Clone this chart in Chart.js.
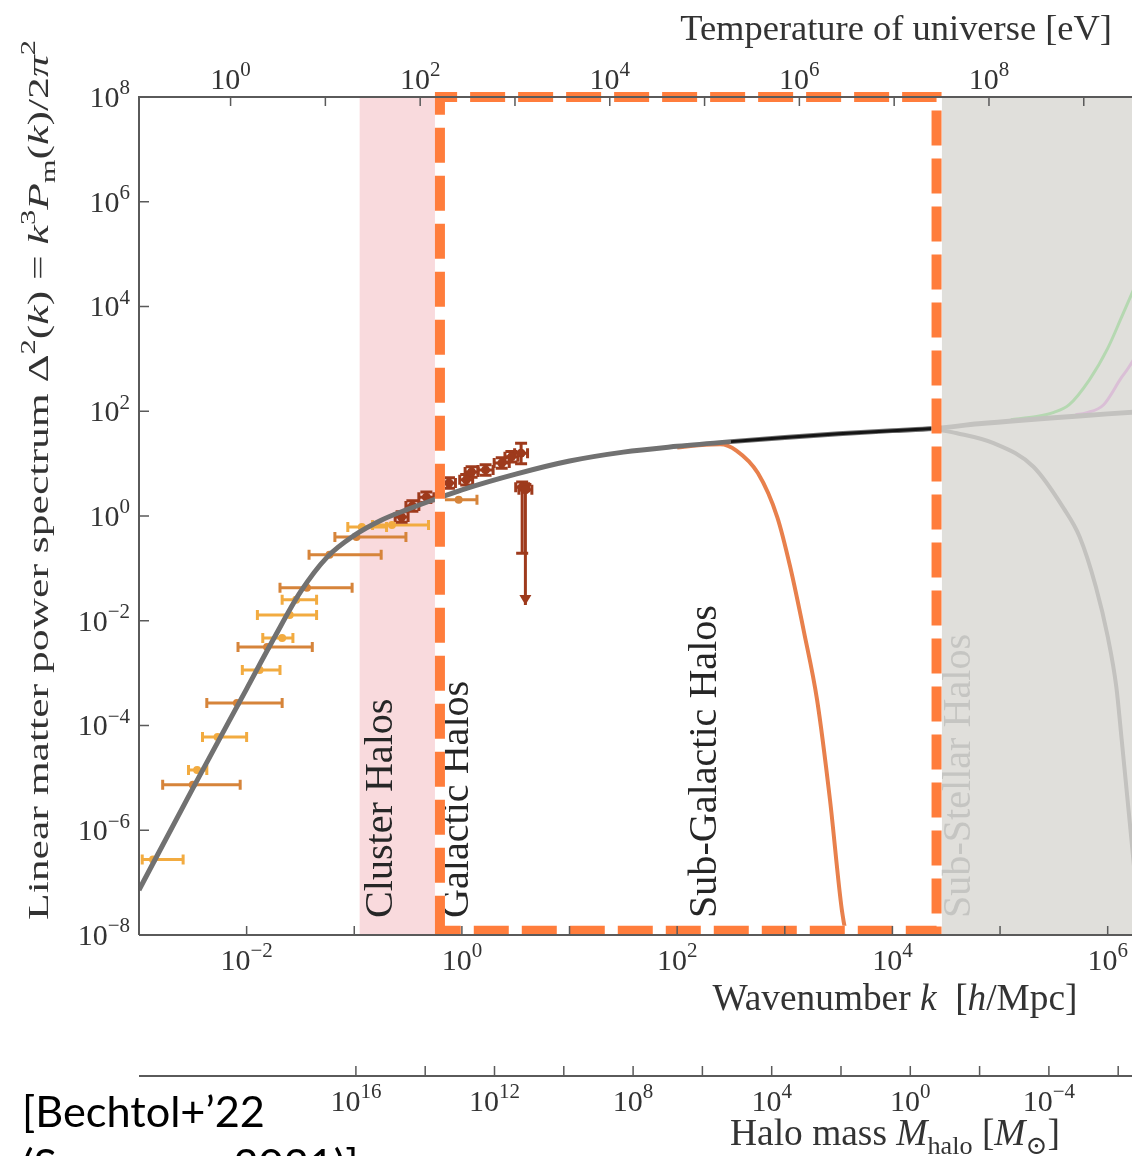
<!DOCTYPE html>
<html>
<head>
<meta charset="utf-8">
<script src="https://cdn.jsdelivr.net/npm/chart.js@4.4.1/dist/chart.umd.min.js"></script>
<style>
  html, body { margin: 0; padding: 0; background: #fff; overflow: hidden; }
  #wrap { position: relative; width: 1132px; height: 1156px; overflow: hidden; }
  canvas { display: block; }
</style>
</head>
<body>
<div id="wrap"><canvas id="powerChart" width="1166" height="1156"></canvas></div>
<script>
// axis ranges, as log10 exponents
const kRange = [-3, 6.5];
const deltaRange = [-8, 8];
const tempRange = [-0.966, 9.82];
const massRange = [-7.25, 22.26];

// tick exponents
const kTicks = [-2, -1, 0, 1, 2, 3, 4, 5, 6];
const kLabels = [-2, 0, 2, 4, 6];
const yTicks = [-8, -6, -4, -2, 0, 2, 4, 6, 8];
const tempTicks = [0, 1, 2, 3, 4, 5, 6, 7, 8, 9];
const tempLabels = [0, 2, 4, 6, 8];
const massTicks = [16, 14, 12, 10, 8, 6, 4, 2, 0, -2, -4, -6];
const massLabels = [16, 12, 8, 4, 0, -4];

// shaded bands and highlight box (log10 k, log10 Delta^2)
const clusterBand = [-0.95, -0.25];
const subStellarBand = [4.46, 6.5];
const boxK = [-0.204, 4.41];
const boxD = [-7.92, 8];

// halo regions
const regionNames = ["Cluster Halos", "Galactic Halos", "Sub-Galactic Halos", "Sub-Stellar Halos"];
const regionK = [-0.77, -0.065, 2.24, 4.6];

// CDM linear power spectrum
const cdmLogK = [-3.0, -2.5, -2.0, -1.75, -1.5, -1.25, -1.0, -0.75, -0.5, -0.25, 0, 0.5, 1.0, 1.5, 2.0, 2.5, 3.0, 3.5, 4.0, 4.38, 4.8, 5.2, 5.6, 6.0, 6.5];
const cdmLogD = [-7.14, -5.2, -3.3, -2.35, -1.45, -0.78, -0.37, -0.08, 0.13, 0.32, 0.50, 0.80, 1.05, 1.22, 1.33, 1.42, 1.50, 1.57, 1.63, 1.67, 1.76, 1.83, 1.89, 1.95, 2.02];
// cutoff models
const wdmLogK = [2.0, 2.2, 2.4, 2.55, 2.75, 2.93, 3.05, 3.18, 3.30, 3.42, 3.53, 3.6];
const wdmLogD = [1.31, 1.35, 1.37, 1.25, 0.82, -0.02, -0.97, -2.23, -3.51, -5.42, -7.52, -8.3];
const fallLogK = [4.38, 4.6, 4.94, 5.31, 5.59, 5.74, 5.89, 6.0, 6.08, 6.13, 6.25];
const fallLogD = [1.66, 1.58, 1.39, 0.94, 0.15, -0.4, -1.35, -2.3, -3.26, -4.27, -6.8];
const greenLogK = [5.1, 5.34, 5.5, 5.64, 5.83, 6.0, 6.13, 6.3, 6.5];
const greenLogD = [1.84, 1.9, 1.98, 2.12, 2.6, 3.2, 3.8, 4.6, 5.5];
const pinkLogK = [5.7, 5.8, 5.96, 6.13, 6.19, 6.5];
const pinkLogD = [1.93, 1.97, 2.12, 2.65, 2.82, 3.9];

// measurements: light orange
const lightK = [-2.87, -2.46, -2.27, -1.88, -1.67, -1.60, -1.54, -0.93, -0.65];
const lightKLo = [-2.97, -2.54, -2.41, -2.04, -1.85, -1.90, -1.67, -1.06, -0.83];
const lightKHi = [-2.59, -2.37, -2.00, -1.69, -1.57, -1.35, -1.35, -0.70, -0.31];
const lightD = [-6.56, -4.85, -4.22, -2.94, -2.33, -1.89, -1.60, -0.21, -0.17];
// measurements: dark orange
const orangeK = [-2.50, -2.09, -1.81, -1.44, -1.23, -0.98, -0.03];
const orangeKLo = [-2.78, -2.37, -2.08, -1.69, -1.42, -1.18, -0.19];
const orangeKHi = [-2.06, -1.67, -1.39, -1.02, -0.75, -0.52, 0.14];
const orangeD = [-5.13, -3.57, -2.50, -1.37, -0.74, -0.40, 0.31];
// measurements: brown (last one is an upper limit)
const brownK = [-0.56, -0.46, -0.33, -0.12, 0.04, 0.09, 0.22, 0.37, 0.46, 0.55, 0.56, 0.59];
const brownKLo = [-0.62, -0.52, -0.40, -0.18, -0.02, 0.03, 0.15, 0.30, 0.40, 0.49, 0.50, 0.53];
const brownKHi = [-0.50, -0.40, -0.26, -0.06, 0.10, 0.15, 0.29, 0.44, 0.52, 0.61, 0.62, 0.65];
const brownD = [-0.02, 0.19, 0.36, 0.63, 0.69, 0.84, 0.88, 1.01, 1.13, 1.20, 0.55, 0.50];
const brownDLo = [-0.12, 0.09, 0.26, 0.53, 0.59, 0.74, 0.78, 0.91, 1.03, 1.00, -0.71, -1.70];
const brownDHi = [0.08, 0.29, 0.46, 0.73, 0.79, 0.94, 0.98, 1.11, 1.23, 1.39, 0.65, 0.60];
const brownLimit = [false, false, false, false, false, false, false, false, false, false, false, true];

const pw = v => Math.pow(10, v);
const SERIF = '"Liberation Serif", "DejaVu Serif", serif';
const INK = "#333";

function curve(ks, ds) {
    return ks.map((k, i) => ({ x: pw(k), y: pw(ds[i]) }));
}
function measured(ks, lo, hi, ds, dlo, dhi, lim) {
    return ks.map((k, i) => ({
        x: pw(k), y: pw(ds[i]), xMin: pw(lo[i]), xMax: pw(hi[i]),
        yMin: dlo ? pw(dlo[i]) : null, yMax: dhi ? pw(dhi[i]) : null,
        limit: lim ? lim[i] : false
    }));
}

// rich text: segments of [text, style]
function segFont(st, size) {
    const small = st === "sup" || st === "sub";
    const it = st === "i";
    return (it ? "italic " : "") + (small ? size * 0.7 : size) + "px " + SERIF;
}
function richWidth(ctx, segs, size) {
    let w = 0;
    segs.forEach(([t, st]) => { ctx.font = segFont(st, size); w += ctx.measureText(t).width; });
    return w;
}
function drawRich(ctx, segs, x, y, size, align) {
    const w = richWidth(ctx, segs, size);
    let cx = align === "center" ? x - w / 2 : align === "right" ? x - w : x;
    ctx.textAlign = "left";
    ctx.textBaseline = "alphabetic";
    segs.forEach(([t, st]) => {
        ctx.font = segFont(st, size);
        const dy = st === "sup" ? -size * 0.42 : st === "sub" ? size * 0.22 : 0;
        ctx.fillText(t, cx, y + dy);
        cx += ctx.measureText(t).width;
    });
}
function fitSize(ctx, segs, target) {
    return 30 * target / richWidth(ctx, segs, 30);
}
function powSegs(e) {
    return [["10", "n"], [(e < 0 ? "\u2212" : "") + Math.abs(e), "sup"]];
}

const TICK_SIZE = 30;

const decor = {
    id: "decor",
    beforeDatasetsDraw(chart) {
        const { ctx, chartArea: a, scales: { x, y } } = chart;
        ctx.save();
        // cluster band
        let x0 = x.getPixelForValue(pw(clusterBand[0]));
        let x1 = x.getPixelForValue(pw(clusterBand[1]));
        ctx.fillStyle = "#f9dadd";
        ctx.fillRect(x0, a.top, x1 - x0, a.bottom - a.top);
        // sub-stellar band
        x0 = x.getPixelForValue(pw(subStellarBand[0]));
        x1 = x.getPixelForValue(pw(subStellarBand[1]));
        ctx.fillStyle = "rgb(224,223,219)";
        ctx.fillRect(x0, a.top, x1 - x0, a.bottom - a.top);

        // error bars
        ctx.lineWidth = 3;
        chart.data.datasets.forEach(ds => {
            if (!ds.errorBars) return;
            ctx.strokeStyle = ds.backgroundColor;
            ctx.fillStyle = ds.backgroundColor;
            ds.data.forEach(p => {
                const px = x.getPixelForValue(p.x), py = y.getPixelForValue(p.y);
                const l = x.getPixelForValue(p.xMin), r = x.getPixelForValue(p.xMax);
                ctx.beginPath();
                ctx.moveTo(l, py); ctx.lineTo(r, py);
                ctx.moveTo(l, py - 5); ctx.lineTo(l, py + 5);
                ctx.moveTo(r, py - 5); ctx.lineTo(r, py + 5);
                ctx.stroke();
                if (p.yMin !== null) {
                    const b = y.getPixelForValue(p.yMin), t = y.getPixelForValue(p.yMax);
                    ctx.beginPath();
                    ctx.moveTo(px, t); ctx.lineTo(px, b);
                    ctx.moveTo(px - 6, t); ctx.lineTo(px + 6, t);
                    if (!p.limit) { ctx.moveTo(px - 6, b); ctx.lineTo(px + 6, b); }
                    ctx.stroke();
                    if (p.limit) {
                        ctx.beginPath();
                        ctx.moveTo(px - 6, b - 10); ctx.lineTo(px + 6, b - 10); ctx.lineTo(px, b);
                        ctx.closePath();
                        ctx.fill();
                    }
                }
            });
        });
        ctx.restore();
    },
    afterDatasetsDraw(chart) {
        const { ctx, chartArea: a, scales: { x, y } } = chart;
        ctx.save();
        // fade what lies inside the sub-stellar band
        const x0 = x.getPixelForValue(pw(subStellarBand[0]));
        const x1 = x.getPixelForValue(pw(subStellarBand[1]));
        ctx.fillStyle = "rgba(224,223,219,0.74)";
        ctx.fillRect(x0, a.top, x1 - x0, a.bottom - a.top);

        // region names, vertical
        const rsize = fitSize(ctx, [[regionNames[2], "n"]], 313);
        regionNames.forEach((name, i) => {
            const px = x.getPixelForValue(pw(regionK[i]));
            ctx.save();
            ctx.translate(px, a.bottom - 17);
            ctx.rotate(-Math.PI / 2);
            ctx.fillStyle = i === 3 ? "#c5c5c2" : "#262626";
            drawRich(ctx, [[name, "n"]], 0, rsize * 0.33, rsize, "left");
            ctx.restore();
        });

        // dashed highlight box
        const bx0 = x.getPixelForValue(pw(boxK[0])), bx1 = x.getPixelForValue(pw(boxK[1]));
        const by0 = y.getPixelForValue(pw(boxD[1])), by1 = y.getPixelForValue(pw(boxD[0]));
        ctx.beginPath();
        ctx.moveTo(bx0, by1);
        ctx.lineTo(bx0, by0);
        ctx.lineTo(bx1, by0);
        ctx.lineTo(bx1, by1);
        ctx.closePath();
        ctx.lineWidth = 10;
        ctx.lineJoin = "miter";
        ctx.strokeStyle = "#fff";
        ctx.stroke();
        ctx.setLineDash([35, 13]);
        ctx.strokeStyle = "#ff7d3c";
        ctx.stroke();
        ctx.restore();
    },
    afterDraw(chart) {
        const { ctx, chartArea: a, scales: { x, y, xTop, mass } } = chart;
        ctx.save();
        ctx.strokeStyle = "#5a5a5a";
        ctx.lineWidth = 2;
        // frame
        ctx.beginPath();
        ctx.moveTo(a.left, a.bottom); ctx.lineTo(a.left, a.top); ctx.lineTo(a.right, a.top);
        ctx.moveTo(a.left, a.bottom); ctx.lineTo(a.right, a.bottom);
        ctx.moveTo(mass.left, mass.top); ctx.lineTo(mass.right, mass.top);
        ctx.stroke();
        // inward ticks
        ctx.lineWidth = 1.5;
        ctx.beginPath();
        yTicks.forEach(e => { const p = y.getPixelForValue(pw(e)); ctx.moveTo(a.left, p); ctx.lineTo(a.left + 10, p); });
        kTicks.forEach(e => { const p = x.getPixelForValue(pw(e)); ctx.moveTo(p, a.bottom); ctx.lineTo(p, a.bottom - 9); });
        tempTicks.forEach(e => { const p = xTop.getPixelForValue(pw(e)); ctx.moveTo(p, a.top); ctx.lineTo(p, a.top + 9); });
        massTicks.forEach(e => { const p = mass.getPixelForValue(pw(e)); ctx.moveTo(p, mass.top); ctx.lineTo(p, mass.top - 10); });
        ctx.stroke();

        // tick labels
        ctx.fillStyle = INK;
        const off = TICK_SIZE * 0.33;
        yTicks.forEach(e => drawRich(ctx, powSegs(e), a.left - 9, y.getPixelForValue(pw(e)) + off, TICK_SIZE, "right"));
        kLabels.forEach(e => drawRich(ctx, powSegs(e), x.getPixelForValue(pw(e)), a.bottom + 25 + off, TICK_SIZE, "center"));
        tempLabels.forEach(e => drawRich(ctx, powSegs(e), xTop.getPixelForValue(pw(e)), a.top - 18 + off, TICK_SIZE, "center"));
        massLabels.forEach(e => drawRich(ctx, powSegs(e), mass.getPixelForValue(pw(e)), mass.top + 25 + off, TICK_SIZE, "center"));

        // axis titles
        const topT = [["Temperature of universe [eV]", "n"]];
        let s = fitSize(ctx, topT, 432);
        drawRich(ctx, topT, 1112, 28 + s * 0.33, s, "right");

        const kT = [["Wavenumber ", "n"], ["k", "i"], ["  [", "n"], ["h", "i"], ["/Mpc]", "n"]];
        s = fitSize(ctx, kT, 365);
        drawRich(ctx, kT, 895, 998 + s * 0.33, s, "center");

        const mT = [["Halo mass ", "n"], ["M", "i"], ["halo", "sub"], [" [", "n"], ["M", "i"], ["\u2299", "sub"], ["]", "n"]];
        s = fitSize(ctx, mT, 330);
        drawRich(ctx, mT, 895, 1133 + s * 0.33, s, "center");

        // y title: wide serif look, stretched along the text
        const yT = [["Linear matter power spectrum ", "n"], ["\u0394", "n"], ["2", "sup"], ["(", "n"], ["k", "i"], [") = ", "n"],
            ["k", "i"], ["3", "sup"], ["P", "i"], ["m", "sub"], ["(", "n"], ["k", "i"], [")/2", "n"], ["\u03c0", "i"], ["2", "sup"]];
        s = 30;
        const stretch = 880 / richWidth(ctx, yT, s);
        ctx.save();
        ctx.translate(38, 480);
        ctx.rotate(-Math.PI / 2);
        ctx.scale(stretch, 1);
        drawRich(ctx, yT, 0, s * 0.33, s, "center");
        ctx.restore();

        // citation
        ctx.fillStyle = "#000";
        ctx.textAlign = "left";
        ctx.font = "40px Lato";
        const cs = 40 * 243 / ctx.measureText("[Bechtol+\u201922").width;
        ctx.font = cs + "px Lato";
        ctx.fillText("[Bechtol+\u201922", 22, 1127);
        ctx.fillText("(Snowmass2021)]", 22, 1127 + cs * 1.22);
        ctx.restore();
    }
};

const hidden = { grid: { display: false }, border: { display: false }, ticks: { display: false } };

new Chart(document.getElementById("powerChart"), {
    type: "scatter",
    data: {
        datasets: [
            { label: "light", data: measured(lightK, lightKLo, lightKHi, lightD), errorBars: true,
              backgroundColor: "#f2ab40", pointRadius: 4, borderWidth: 0, order: 4 },
            { label: "orange", data: measured(orangeK, orangeKLo, orangeKHi, orangeD), errorBars: true,
              backgroundColor: "#d6843a", pointRadius: 4, borderWidth: 0, order: 4 },
            { label: "brown", data: measured(brownK, brownKLo, brownKHi, brownD, brownDLo, brownDHi, brownLimit), errorBars: true,
              backgroundColor: "#9e3a1c", pointRadius: 4.5, borderWidth: 0, order: 4 },
            { label: "green", data: curve(greenLogK, greenLogD), showLine: true, borderColor: "#3cc43c", borderWidth: 3,
              pointRadius: 0, cubicInterpolationMode: "monotone", order: 3 },
            { label: "pink", data: curve(pinkLogK, pinkLogD), showLine: true, borderColor: "#c864c8", borderWidth: 3,
              pointRadius: 0, cubicInterpolationMode: "monotone", order: 3 },
            { label: "fall", data: curve(fallLogK, fallLogD), showLine: true, borderColor: "#6f6f6f", borderWidth: 4,
              pointRadius: 0, cubicInterpolationMode: "monotone", order: 3 },
            { label: "WDM", data: curve(wdmLogK, wdmLogD), showLine: true, borderColor: "#e8804c", borderWidth: 4,
              pointRadius: 0, cubicInterpolationMode: "monotone", order: 2 },
            { label: "CDM", data: curve(cdmLogK, cdmLogD), showLine: true, borderColor: "#717171", borderWidth: 5,
              pointRadius: 0, cubicInterpolationMode: "monotone", order: 1 },
            { label: "CDM dark", data: curve(cdmLogK.slice(15, 20), cdmLogD.slice(15, 20)), showLine: true, borderColor: "#151515",
              borderWidth: 3, pointRadius: 0, cubicInterpolationMode: "monotone", order: 0 }
        ]
    },
    options: {
        responsive: false,
        animation: false,
        events: [],
        layout: { padding: 0 },
        plugins: { legend: { display: false }, tooltip: { enabled: false } },
        scales: {
            x: { type: "logarithmic", position: "bottom", min: pw(kRange[0]), max: pw(kRange[1]), ...hidden,
                 afterFit: s => { s.height = 141; } },
            mass: { type: "logarithmic", axis: "x", position: "bottom", weight: 1, reverse: true,
                    min: pw(massRange[0]), max: pw(massRange[1]), ...hidden, afterFit: s => { s.height = 80; } },
            xTop: { type: "logarithmic", axis: "x", position: "top", min: pw(tempRange[0]), max: pw(tempRange[1]), ...hidden,
                    afterFit: s => { s.height = 97; } },
            y: { type: "logarithmic", position: "left", min: pw(deltaRange[0]), max: pw(deltaRange[1]), ...hidden,
                 afterFit: s => { s.width = 139; } }
        }
    },
    plugins: [decor]
});
</script>
</body>
</html>
